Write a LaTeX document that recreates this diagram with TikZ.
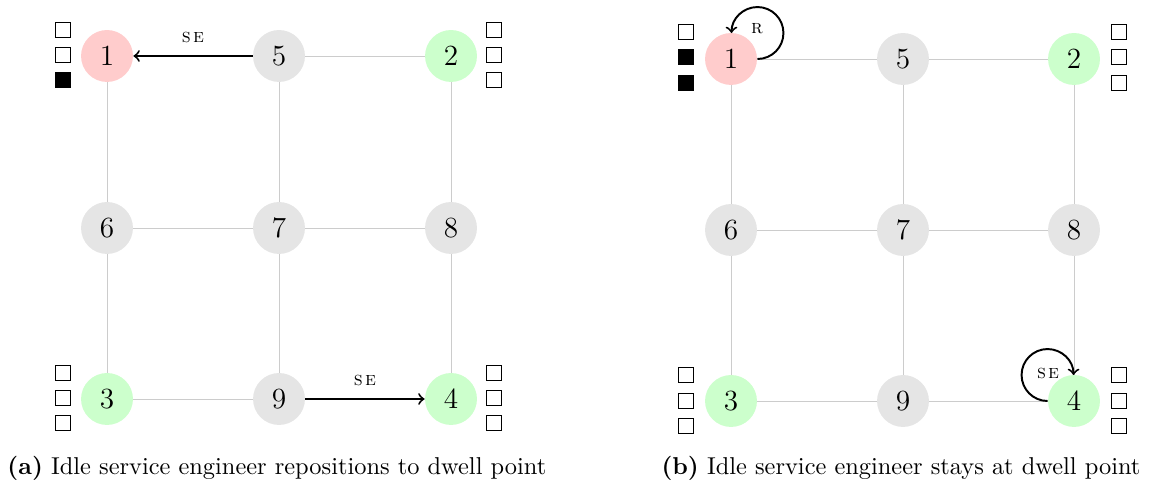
\documentclass[tikz,border=0pt]{standalone}
\begin{document}
\begin{tikzpicture}[x=0.41pt,y=0.41pt,
  stn/.style={circle,minimum size=21.3pt,inner sep=0pt,font=\large},
  dwell/.style={stn,fill=green!20},
  idle/.style={stn,fill=black!10},
  home/.style={stn,fill=red!20},
  link/.style={draw=black!20,line width=0.4pt},
  move/.style={->,line width=0.8pt},
  slot/.style={draw,rectangle,minimum size=6.1pt,inner sep=0pt,line width=0.5pt,fill=white},
  used/.style={slot,fill=black},
  lab/.style={font=\footnotesize\scshape,inner sep=0pt},
  subcap/.style={anchor=base west,inner sep=0pt}
]
\useasboundingbox (0,0) rectangle (1149,489);

% ---- panel (a) ----
\node[home]  (a1) at (107,433) {1};
\node[idle]  (a5) at (279,433) {5};
\node[dwell] (a2) at (451,433) {2};
\node[idle]  (a6) at (107,261) {6};
\node[idle]  (a7) at (279,261) {7};
\node[idle]  (a8) at (451,261) {8};
\node[dwell] (a3) at (107,90) {3};
\node[idle]  (a9) at (279,90) {9};
\node[dwell] (a4) at (451,90) {4};

\draw[link] (a5) -- (a2) (a1) -- (a6) (a5) -- (a7) (a2) -- (a8)
  (a6) -- (a7) (a7) -- (a8) (a6) -- (a3) (a7) -- (a9) (a8) -- (a4) (a3) -- (a9);
\draw[move] (a5) -- node[lab,above=5pt] {s\kern0.9pt e} (a1);
\draw[move] (a9) -- node[lab,above=5pt] {s\kern0.9pt e} (a4);

\node[slot] (a1s1) at (63,459) {};
\node[slot] (a1s2) at (63,434) {};
\node[used] (a1s3) at (63,409) {};
\node[slot] (a2s1) at (494,459) {};
\node[slot] (a2s2) at (494,434) {};
\node[slot] (a2s3) at (494,409) {};
\node[slot] (a3s1) at (63,116) {};
\node[slot] (a3s2) at (63,91) {};
\node[slot] (a3s3) at (63,66) {};
\node[slot] (a4s1) at (494,116) {};
\node[slot] (a4s2) at (494,91) {};
\node[slot] (a4s3) at (494,66) {};

\node[subcap] (capa) at (7,14) {\textbf{(a)} Idle service engineer repositions to dwell point};

% ---- panel (b) ----
\node[home]  (b1) at (731,430) {1};
\node[idle]  (b5) at (903,430) {5};
\node[dwell] (b2) at (1074,430) {2};
\node[idle]  (b6) at (731,259) {6};
\node[idle]  (b7) at (903,259) {7};
\node[idle]  (b8) at (1074,259) {8};
\node[dwell] (b3) at (731,88) {3};
\node[idle]  (b9) at (903,88) {9};
\node[dwell] (b4) at (1074,88) {4};

\draw[link] (b1) -- (b5) (b5) -- (b2) (b1) -- (b6) (b5) -- (b7) (b2) -- (b8)
  (b6) -- (b7) (b7) -- (b8) (b6) -- (b3) (b7) -- (b9) (b8) -- (b4)
  (b3) -- (b9) (b9) -- (b4);
% self-loops: three-quarter circles through the east/west and north anchors
\draw[move] (b1.east) arc[start angle=-90, end angle=180, radius=10.65pt];
\node[lab] (rl) at (757,460) {r};
\draw[move] (b4.west) arc[start angle=270, end angle=0, radius=10.65pt];
\node[lab] (sl) at (1048,116) {s\kern0.9pt e};

\node[slot] (b1s1) at (686,457) {};
\node[used] (b1s2) at (686,432) {};
\node[used] (b1s3) at (686,406) {};
\node[slot] (b2s1) at (1119,457) {};
\node[slot] (b2s2) at (1119,432) {};
\node[slot] (b2s3) at (1119,406) {};
\node[slot] (b3s1) at (686,114) {};
\node[slot] (b3s2) at (686,88) {};
\node[slot] (b3s3) at (686,63) {};
\node[slot] (b4s1) at (1119,114) {};
\node[slot] (b4s2) at (1119,88) {};
\node[slot] (b4s3) at (1119,63) {};

\node[subcap] (capb) at (661,14) {\textbf{(b)} Idle service engineer stays at dwell point};
\end{tikzpicture}
\end{document}
